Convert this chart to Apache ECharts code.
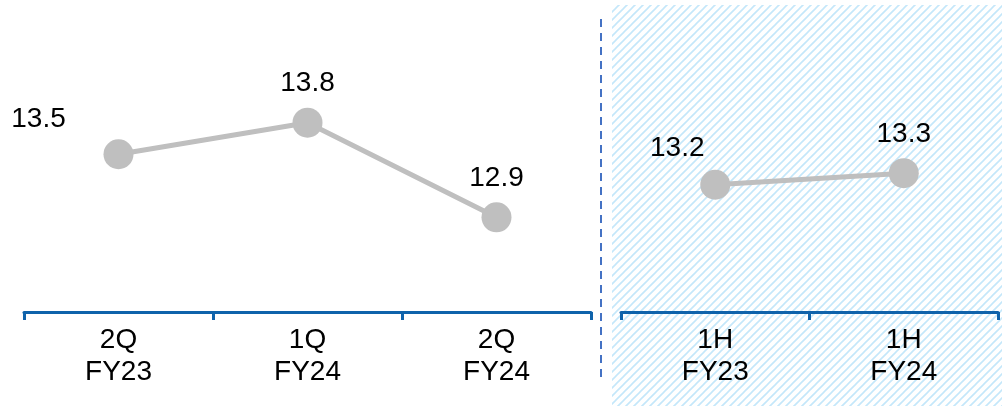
<!DOCTYPE html>
<html>
<head>
<meta charset="utf-8">
<script src="https://cdn.jsdelivr.net/npm/echarts@6/dist/echarts.min.js"></script>
<style>
html,body{margin:0;padding:0;background:#fff;}
#chart{width:1002px;height:406px;}
</style>
</head>
<body>
<div id="chart"></div>
<script>
// Data
var quarterCategories = ['2Q\nFY23', '1Q\nFY24', '2Q\nFY24'];
var quarterValues = [13.5, 13.8, 12.9];
var halfCategories = ['1H\nFY23', '1H\nFY24'];
var halfValues = [13.21, 13.32];

var FONT = '"Liberation Sans", Arial, sans-serif';
var AXIS_COLOR = '#0F63AB';
var LINE_COLOR = '#BFBFBF';

// hatch pattern
var pc = document.createElement('canvas');
pc.width = 8; pc.height = 8;
var pctx = pc.getContext('2d');
pctx.strokeStyle = '#C4E7FA';
pctx.lineWidth = 1.6;
pctx.beginPath();
pctx.moveTo(-1, 9); pctx.lineTo(9, -1);
pctx.moveTo(-1, 1); pctx.lineTo(1, -1);
pctx.moveTo(7, 9); pctx.lineTo(9, 7);
pctx.stroke();

function xAxisCfg(gi, cats) {
  return {
    type: 'category', gridIndex: gi, data: cats, boundaryGap: true,
    axisLine: {show: true, lineStyle: {color: AXIS_COLOR, width: 3}},
    axisTick: {show: true, inside: false, length: 8, lineStyle: {color: AXIS_COLOR, width: 3}},
    axisLabel: {color: '#000', fontSize: 28, lineHeight: 32, fontFamily: FONT, margin: 12, interval: 0}
  };
}
function yAxisCfg(gi) {
  return {type: 'value', gridIndex: gi, min: 12, max: 14.9, show: false, splitLine: {show: false}};
}
function seriesCfg(gi, vals, firstOffset) {
  return {
    type: 'line', xAxisIndex: gi, yAxisIndex: gi,
    data: vals.map(function (v, i) {
      var d = {value: v};
      if (i === 0) d.label = {offset: firstOffset};
      return d;
    }),
    symbol: 'circle', symbolSize: 30,
    lineStyle: {color: LINE_COLOR, width: 5},
    itemStyle: {color: LINE_COLOR},
    label: {
      show: true, position: 'top', distance: 10,
      color: '#000', fontSize: 28, fontFamily: FONT,
      formatter: function (p) { return p.value.toFixed(1); }
    },
    emphasis: {disabled: true},
    animation: false, z: 3
  };
}

var chart = echarts.init(document.getElementById('chart'), null, {renderer: 'canvas'});
chart.setOption({
  animation: false,
  grid: [
    {left: 24, width: 567, top: 7, height: 305},
    {left: 621, width: 377, top: 7, height: 305}
  ],
  xAxis: [xAxisCfg(0, quarterCategories), xAxisCfg(1, halfCategories)],
  yAxis: [yAxisCfg(0), yAxisCfg(1)],
  graphic: [
    {type: 'rect', z: -10, silent: true,
     shape: {x: 612, y: 5, width: 390, height: 401},
     style: {fill: {image: pc, repeat: 'repeat'}}},
    {type: 'line', z: -5, silent: true,
     shape: {x1: 601, y1: 19, x2: 601, y2: 377},
     style: {stroke: '#4472C4', lineWidth: 2, lineDash: [8, 6]}}
  ],
  series: [
    seriesCfg(0, quarterValues, [-80, 4]),
    seriesCfg(1, halfValues, [-38, 3])
  ]
});
</script>
</body>
</html>
